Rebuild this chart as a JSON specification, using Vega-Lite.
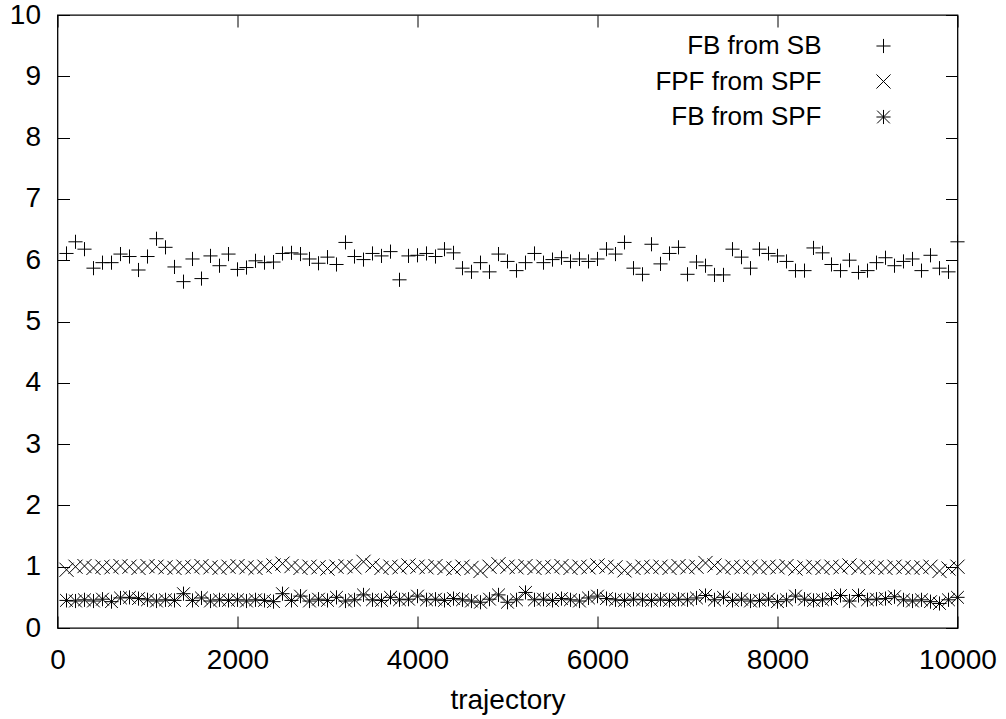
{
"$schema": "https://vega.github.io/schema/vega-lite/v6.json",
"autosize": "none",
"width": 900,
"height": 613,
"padding": {"left": 57.5, "top": 15, "right": 48.5, "bottom": 91},
"background": "white",
"config": {
  "view": {"stroke": "black", "strokeWidth": 1.3},
  "font": "Liberation Sans",
  "axis": {"domain": false, "grid": false, "tickColor": "black", "tickWidth": 1, "tickSize": -12, "labelColor": "black", "labelFontSize": 28, "labelFont": "Liberation Sans", "titleFont": "Liberation Sans", "titleFontSize": 28, "titleFontWeight": "normal", "titleColor": "black", "labelFlush": false, "labelOverlap": false, "format": "d"}
},
"datasets": {
"s1": [
{"t":100,"v":6.11,"s":"FB from SB"},{"t":200,"v":6.30,"s":"FB from SB"},{"t":300,"v":6.18,"s":"FB from SB"},{"t":400,"v":5.87,"s":"FB from SB"},{"t":500,"v":5.96,"s":"FB from SB"},{"t":600,"v":5.96,"s":"FB from SB"},{"t":700,"v":6.10,"s":"FB from SB"},{"t":800,"v":6.06,"s":"FB from SB"},{"t":900,"v":5.84,"s":"FB from SB"},{"t":1000,"v":6.06,"s":"FB from SB"},
{"t":1100,"v":6.35,"s":"FB from SB"},{"t":1200,"v":6.21,"s":"FB from SB"},{"t":1300,"v":5.89,"s":"FB from SB"},{"t":1400,"v":5.65,"s":"FB from SB"},{"t":1500,"v":6.02,"s":"FB from SB"},{"t":1600,"v":5.70,"s":"FB from SB"},{"t":1700,"v":6.07,"s":"FB from SB"},{"t":1800,"v":5.91,"s":"FB from SB"},{"t":1900,"v":6.10,"s":"FB from SB"},{"t":2000,"v":5.85,"s":"FB from SB"},
{"t":2100,"v":5.88,"s":"FB from SB"},{"t":2200,"v":5.99,"s":"FB from SB"},{"t":2300,"v":5.96,"s":"FB from SB"},{"t":2400,"v":5.97,"s":"FB from SB"},{"t":2500,"v":6.11,"s":"FB from SB"},{"t":2600,"v":6.12,"s":"FB from SB"},{"t":2700,"v":6.10,"s":"FB from SB"},{"t":2800,"v":6.02,"s":"FB from SB"},{"t":2900,"v":5.95,"s":"FB from SB"},{"t":3000,"v":6.05,"s":"FB from SB"},
{"t":3100,"v":5.93,"s":"FB from SB"},{"t":3200,"v":6.29,"s":"FB from SB"},{"t":3300,"v":6.06,"s":"FB from SB"},{"t":3400,"v":6.01,"s":"FB from SB"},{"t":3500,"v":6.11,"s":"FB from SB"},{"t":3600,"v":6.07,"s":"FB from SB"},{"t":3700,"v":6.14,"s":"FB from SB"},{"t":3800,"v":5.68,"s":"FB from SB"},{"t":3900,"v":6.07,"s":"FB from SB"},{"t":4000,"v":6.08,"s":"FB from SB"},
{"t":4100,"v":6.11,"s":"FB from SB"},{"t":4200,"v":6.06,"s":"FB from SB"},{"t":4300,"v":6.18,"s":"FB from SB"},{"t":4400,"v":6.12,"s":"FB from SB"},{"t":4500,"v":5.87,"s":"FB from SB"},{"t":4600,"v":5.81,"s":"FB from SB"},{"t":4700,"v":5.96,"s":"FB from SB"},{"t":4800,"v":5.81,"s":"FB from SB"},{"t":4900,"v":6.10,"s":"FB from SB"},{"t":5000,"v":5.98,"s":"FB from SB"},
{"t":5100,"v":5.83,"s":"FB from SB"},{"t":5200,"v":5.96,"s":"FB from SB"},{"t":5300,"v":6.11,"s":"FB from SB"},{"t":5400,"v":5.96,"s":"FB from SB"},{"t":5500,"v":6.01,"s":"FB from SB"},{"t":5600,"v":6.04,"s":"FB from SB"},{"t":5700,"v":5.98,"s":"FB from SB"},{"t":5800,"v":6.02,"s":"FB from SB"},{"t":5900,"v":5.98,"s":"FB from SB"},{"t":6000,"v":6.02,"s":"FB from SB"},
{"t":6100,"v":6.18,"s":"FB from SB"},{"t":6200,"v":6.10,"s":"FB from SB"},{"t":6300,"v":6.29,"s":"FB from SB"},{"t":6400,"v":5.87,"s":"FB from SB"},{"t":6500,"v":5.77,"s":"FB from SB"},{"t":6600,"v":6.26,"s":"FB from SB"},{"t":6700,"v":5.94,"s":"FB from SB"},{"t":6800,"v":6.11,"s":"FB from SB"},{"t":6900,"v":6.21,"s":"FB from SB"},{"t":7000,"v":5.77,"s":"FB from SB"},
{"t":7100,"v":5.97,"s":"FB from SB"},{"t":7200,"v":5.91,"s":"FB from SB"},{"t":7300,"v":5.76,"s":"FB from SB"},{"t":7400,"v":5.76,"s":"FB from SB"},{"t":7500,"v":6.18,"s":"FB from SB"},{"t":7600,"v":6.05,"s":"FB from SB"},{"t":7700,"v":5.87,"s":"FB from SB"},{"t":7800,"v":6.18,"s":"FB from SB"},{"t":7900,"v":6.11,"s":"FB from SB"},{"t":8000,"v":6.07,"s":"FB from SB"},
{"t":8100,"v":5.98,"s":"FB from SB"},{"t":8200,"v":5.83,"s":"FB from SB"},{"t":8300,"v":5.83,"s":"FB from SB"},{"t":8400,"v":6.20,"s":"FB from SB"},{"t":8500,"v":6.12,"s":"FB from SB"},{"t":8600,"v":5.93,"s":"FB from SB"},{"t":8700,"v":5.83,"s":"FB from SB"},{"t":8800,"v":6.00,"s":"FB from SB"},{"t":8900,"v":5.80,"s":"FB from SB"},{"t":9000,"v":5.83,"s":"FB from SB"},
{"t":9100,"v":5.96,"s":"FB from SB"},{"t":9200,"v":6.04,"s":"FB from SB"},{"t":9300,"v":5.91,"s":"FB from SB"},{"t":9400,"v":5.98,"s":"FB from SB"},{"t":9500,"v":6.02,"s":"FB from SB"},{"t":9600,"v":5.83,"s":"FB from SB"},{"t":9700,"v":6.08,"s":"FB from SB"},{"t":9800,"v":5.87,"s":"FB from SB"},{"t":9900,"v":5.81,"s":"FB from SB"},{"t":10000,"v":6.30,"s":"FB from SB"}
],
"s2": [
{"t":100,"v":0.95,"s":"FPF from SPF"},{"t":200,"v":1.00,"s":"FPF from SPF"},{"t":300,"v":1.01,"s":"FPF from SPF"},{"t":400,"v":0.98,"s":"FPF from SPF"},{"t":500,"v":1.00,"s":"FPF from SPF"},{"t":600,"v":0.99,"s":"FPF from SPF"},{"t":700,"v":1.01,"s":"FPF from SPF"},{"t":800,"v":1.00,"s":"FPF from SPF"},{"t":900,"v":0.98,"s":"FPF from SPF"},{"t":1000,"v":1.01,"s":"FPF from SPF"},
{"t":1100,"v":1.00,"s":"FPF from SPF"},{"t":1200,"v":0.99,"s":"FPF from SPF"},{"t":1300,"v":0.98,"s":"FPF from SPF"},{"t":1400,"v":1.00,"s":"FPF from SPF"},{"t":1500,"v":0.99,"s":"FPF from SPF"},{"t":1600,"v":1.01,"s":"FPF from SPF"},{"t":1700,"v":0.99,"s":"FPF from SPF"},{"t":1800,"v":0.98,"s":"FPF from SPF"},{"t":1900,"v":1.00,"s":"FPF from SPF"},{"t":2000,"v":1.01,"s":"FPF from SPF"},
{"t":2100,"v":0.99,"s":"FPF from SPF"},{"t":2200,"v":0.98,"s":"FPF from SPF"},{"t":2300,"v":1.00,"s":"FPF from SPF"},{"t":2400,"v":1.02,"s":"FPF from SPF"},{"t":2500,"v":1.05,"s":"FPF from SPF"},{"t":2600,"v":1.01,"s":"FPF from SPF"},{"t":2700,"v":0.98,"s":"FPF from SPF"},{"t":2800,"v":1.00,"s":"FPF from SPF"},{"t":2900,"v":0.99,"s":"FPF from SPF"},{"t":3000,"v":0.97,"s":"FPF from SPF"},
{"t":3100,"v":1.00,"s":"FPF from SPF"},{"t":3200,"v":1.01,"s":"FPF from SPF"},{"t":3300,"v":0.99,"s":"FPF from SPF"},{"t":3400,"v":1.08,"s":"FPF from SPF"},{"t":3500,"v":1.02,"s":"FPF from SPF"},{"t":3600,"v":0.98,"s":"FPF from SPF"},{"t":3700,"v":1.00,"s":"FPF from SPF"},{"t":3800,"v":0.99,"s":"FPF from SPF"},{"t":3900,"v":1.02,"s":"FPF from SPF"},{"t":4000,"v":1.00,"s":"FPF from SPF"},
{"t":4100,"v":0.99,"s":"FPF from SPF"},{"t":4200,"v":1.01,"s":"FPF from SPF"},{"t":4300,"v":0.98,"s":"FPF from SPF"},{"t":4400,"v":0.97,"s":"FPF from SPF"},{"t":4500,"v":1.00,"s":"FPF from SPF"},{"t":4600,"v":0.98,"s":"FPF from SPF"},{"t":4700,"v":0.93,"s":"FPF from SPF"},{"t":4800,"v":1.00,"s":"FPF from SPF"},{"t":4900,"v":1.04,"s":"FPF from SPF"},{"t":5000,"v":1.00,"s":"FPF from SPF"},
{"t":5100,"v":0.99,"s":"FPF from SPF"},{"t":5200,"v":1.01,"s":"FPF from SPF"},{"t":5300,"v":0.98,"s":"FPF from SPF"},{"t":5400,"v":1.00,"s":"FPF from SPF"},{"t":5500,"v":0.99,"s":"FPF from SPF"},{"t":5600,"v":1.01,"s":"FPF from SPF"},{"t":5700,"v":0.98,"s":"FPF from SPF"},{"t":5800,"v":1.00,"s":"FPF from SPF"},{"t":5900,"v":0.99,"s":"FPF from SPF"},{"t":6000,"v":1.02,"s":"FPF from SPF"},
{"t":6100,"v":1.00,"s":"FPF from SPF"},{"t":6200,"v":0.99,"s":"FPF from SPF"},{"t":6300,"v":0.94,"s":"FPF from SPF"},{"t":6400,"v":0.98,"s":"FPF from SPF"},{"t":6500,"v":1.00,"s":"FPF from SPF"},{"t":6600,"v":0.99,"s":"FPF from SPF"},{"t":6700,"v":1.00,"s":"FPF from SPF"},{"t":6800,"v":0.98,"s":"FPF from SPF"},{"t":6900,"v":1.01,"s":"FPF from SPF"},{"t":7000,"v":0.99,"s":"FPF from SPF"},
{"t":7100,"v":1.00,"s":"FPF from SPF"},{"t":7200,"v":1.06,"s":"FPF from SPF"},{"t":7300,"v":1.02,"s":"FPF from SPF"},{"t":7400,"v":0.98,"s":"FPF from SPF"},{"t":7500,"v":1.00,"s":"FPF from SPF"},{"t":7600,"v":0.99,"s":"FPF from SPF"},{"t":7700,"v":1.00,"s":"FPF from SPF"},{"t":7800,"v":0.98,"s":"FPF from SPF"},{"t":7900,"v":1.00,"s":"FPF from SPF"},{"t":8000,"v":0.99,"s":"FPF from SPF"},
{"t":8100,"v":1.01,"s":"FPF from SPF"},{"t":8200,"v":0.97,"s":"FPF from SPF"},{"t":8300,"v":0.99,"s":"FPF from SPF"},{"t":8400,"v":1.00,"s":"FPF from SPF"},{"t":8500,"v":0.98,"s":"FPF from SPF"},{"t":8600,"v":1.00,"s":"FPF from SPF"},{"t":8700,"v":0.99,"s":"FPF from SPF"},{"t":8800,"v":1.02,"s":"FPF from SPF"},{"t":8900,"v":0.98,"s":"FPF from SPF"},{"t":9000,"v":1.00,"s":"FPF from SPF"},
{"t":9100,"v":0.99,"s":"FPF from SPF"},{"t":9200,"v":0.98,"s":"FPF from SPF"},{"t":9300,"v":1.00,"s":"FPF from SPF"},{"t":9400,"v":0.99,"s":"FPF from SPF"},{"t":9500,"v":0.98,"s":"FPF from SPF"},{"t":9600,"v":0.99,"s":"FPF from SPF"},{"t":9700,"v":1.00,"s":"FPF from SPF"},{"t":9800,"v":0.93,"s":"FPF from SPF"},{"t":9900,"v":0.97,"s":"FPF from SPF"},{"t":10000,"v":1.00,"s":"FPF from SPF"}
],
"s3": [
{"t":100,"v":0.45,"s":"FB from SPF"},{"t":200,"v":0.44,"s":"FB from SPF"},{"t":300,"v":0.46,"s":"FB from SPF"},{"t":400,"v":0.44,"s":"FB from SPF"},{"t":500,"v":0.47,"s":"FB from SPF"},{"t":600,"v":0.43,"s":"FB from SPF"},{"t":700,"v":0.49,"s":"FB from SPF"},{"t":800,"v":0.50,"s":"FB from SPF"},{"t":900,"v":0.48,"s":"FB from SPF"},{"t":1000,"v":0.46,"s":"FB from SPF"},
{"t":1100,"v":0.44,"s":"FB from SPF"},{"t":1200,"v":0.46,"s":"FB from SPF"},{"t":1300,"v":0.45,"s":"FB from SPF"},{"t":1400,"v":0.56,"s":"FB from SPF"},{"t":1500,"v":0.45,"s":"FB from SPF"},{"t":1600,"v":0.49,"s":"FB from SPF"},{"t":1700,"v":0.44,"s":"FB from SPF"},{"t":1800,"v":0.46,"s":"FB from SPF"},{"t":1900,"v":0.45,"s":"FB from SPF"},{"t":2000,"v":0.46,"s":"FB from SPF"},
{"t":2100,"v":0.44,"s":"FB from SPF"},{"t":2200,"v":0.46,"s":"FB from SPF"},{"t":2300,"v":0.45,"s":"FB from SPF"},{"t":2400,"v":0.43,"s":"FB from SPF"},{"t":2500,"v":0.56,"s":"FB from SPF"},{"t":2600,"v":0.45,"s":"FB from SPF"},{"t":2700,"v":0.52,"s":"FB from SPF"},{"t":2800,"v":0.44,"s":"FB from SPF"},{"t":2900,"v":0.47,"s":"FB from SPF"},{"t":3000,"v":0.45,"s":"FB from SPF"},
{"t":3100,"v":0.50,"s":"FB from SPF"},{"t":3200,"v":0.44,"s":"FB from SPF"},{"t":3300,"v":0.46,"s":"FB from SPF"},{"t":3400,"v":0.54,"s":"FB from SPF"},{"t":3500,"v":0.46,"s":"FB from SPF"},{"t":3600,"v":0.45,"s":"FB from SPF"},{"t":3700,"v":0.50,"s":"FB from SPF"},{"t":3800,"v":0.46,"s":"FB from SPF"},{"t":3900,"v":0.47,"s":"FB from SPF"},{"t":4000,"v":0.52,"s":"FB from SPF"},
{"t":4100,"v":0.46,"s":"FB from SPF"},{"t":4200,"v":0.47,"s":"FB from SPF"},{"t":4300,"v":0.45,"s":"FB from SPF"},{"t":4400,"v":0.48,"s":"FB from SPF"},{"t":4500,"v":0.46,"s":"FB from SPF"},{"t":4600,"v":0.44,"s":"FB from SPF"},{"t":4700,"v":0.42,"s":"FB from SPF"},{"t":4800,"v":0.47,"s":"FB from SPF"},{"t":4900,"v":0.54,"s":"FB from SPF"},{"t":5000,"v":0.42,"s":"FB from SPF"},
{"t":5100,"v":0.46,"s":"FB from SPF"},{"t":5200,"v":0.58,"s":"FB from SPF"},{"t":5300,"v":0.46,"s":"FB from SPF"},{"t":5400,"v":0.47,"s":"FB from SPF"},{"t":5500,"v":0.45,"s":"FB from SPF"},{"t":5600,"v":0.48,"s":"FB from SPF"},{"t":5700,"v":0.46,"s":"FB from SPF"},{"t":5800,"v":0.44,"s":"FB from SPF"},{"t":5900,"v":0.49,"s":"FB from SPF"},{"t":6000,"v":0.52,"s":"FB from SPF"},
{"t":6100,"v":0.48,"s":"FB from SPF"},{"t":6200,"v":0.46,"s":"FB from SPF"},{"t":6300,"v":0.45,"s":"FB from SPF"},{"t":6400,"v":0.47,"s":"FB from SPF"},{"t":6500,"v":0.46,"s":"FB from SPF"},{"t":6600,"v":0.45,"s":"FB from SPF"},{"t":6700,"v":0.47,"s":"FB from SPF"},{"t":6800,"v":0.45,"s":"FB from SPF"},{"t":6900,"v":0.47,"s":"FB from SPF"},{"t":7000,"v":0.46,"s":"FB from SPF"},
{"t":7100,"v":0.49,"s":"FB from SPF"},{"t":7200,"v":0.53,"s":"FB from SPF"},{"t":7300,"v":0.46,"s":"FB from SPF"},{"t":7400,"v":0.50,"s":"FB from SPF"},{"t":7500,"v":0.45,"s":"FB from SPF"},{"t":7600,"v":0.47,"s":"FB from SPF"},{"t":7700,"v":0.44,"s":"FB from SPF"},{"t":7800,"v":0.45,"s":"FB from SPF"},{"t":7900,"v":0.47,"s":"FB from SPF"},{"t":8000,"v":0.43,"s":"FB from SPF"},
{"t":8100,"v":0.46,"s":"FB from SPF"},{"t":8200,"v":0.52,"s":"FB from SPF"},{"t":8300,"v":0.47,"s":"FB from SPF"},{"t":8400,"v":0.45,"s":"FB from SPF"},{"t":8500,"v":0.46,"s":"FB from SPF"},{"t":8600,"v":0.48,"s":"FB from SPF"},{"t":8700,"v":0.53,"s":"FB from SPF"},{"t":8800,"v":0.44,"s":"FB from SPF"},{"t":8900,"v":0.53,"s":"FB from SPF"},{"t":9000,"v":0.46,"s":"FB from SPF"},
{"t":9100,"v":0.47,"s":"FB from SPF"},{"t":9200,"v":0.48,"s":"FB from SPF"},{"t":9300,"v":0.51,"s":"FB from SPF"},{"t":9400,"v":0.46,"s":"FB from SPF"},{"t":9500,"v":0.44,"s":"FB from SPF"},{"t":9600,"v":0.46,"s":"FB from SPF"},{"t":9700,"v":0.43,"s":"FB from SPF"},{"t":9800,"v":0.40,"s":"FB from SPF"},{"t":9900,"v":0.46,"s":"FB from SPF"},{"t":10000,"v":0.50,"s":"FB from SPF"}
]
},
"layer": [
  {
    "data": {"name": "s1"},
    "mark": {"type": "point", "filled": false, "strokeWidth": 1, "size": 200, "color": "black", "opacity": 1},
    "encoding": {
      "x": {"field": "t", "type": "quantitative", "scale": {"domain": [0, 10000], "nice": false, "zero": false}, "axis": {"orient": "bottom", "values": [0,2000,4000,6000,8000,10000], "labelPadding": 30, "title": "trajectory", "titlePadding": 12}},
      "y": {"field": "v", "type": "quantitative", "scale": {"domain": [0, 10], "nice": false, "zero": false}, "axis": {"orient": "left", "values": [0,1,2,3,4,5,6,7,8,9,10], "labelPadding": 29, "title": null}},
      "shape": {"field": "s", "type": "nominal", "scale": {"domain": ["FB from SB", "FPF from SPF", "FB from SPF"], "range": ["M-1,0L1,0M0,-1L0,1", "M-1,-1L1,1M-1,1L1,-1", "M-1,0L1,0M0,-1L0,1M-0.9,-0.9L0.9,0.9M-0.9,0.9L0.9,-0.9"]},
        "legend": {"title": null, "orient": "none", "legendX": 813, "legendY": 18, "padding": 0, "symbolSize": 200, "symbolStrokeColor": "black", "symbolFillColor": "transparent", "symbolStrokeWidth": 1, "labelFontSize": 26, "labelFont": "Liberation Sans", "labelColor": "black", "labelAlign": "right", "labelOffset": -75, "rowPadding": 9.5, "labelLimit": 400}}
    }
  },
  {
    "data": {"name": "s2"},
    "mark": {"type": "point", "filled": false, "strokeWidth": 1, "size": 200, "color": "black", "opacity": 1},
    "encoding": {
      "x": {"field": "t", "type": "quantitative", "axis": {"orient": "top", "values": [0,2000,4000,6000,8000,10000], "labels": false, "title": null}},
      "y": {"field": "v", "type": "quantitative", "axis": {"orient": "right", "values": [0,1,2,3,4,5,6,7,8,9,10], "labels": false, "title": null}},
      "shape": {"field": "s", "type": "nominal"}
    }
  },
  {
    "data": {"name": "s3"},
    "mark": {"type": "point", "filled": false, "strokeWidth": 1, "size": 200, "color": "black", "opacity": 1},
    "encoding": {
      "x": {"field": "t", "type": "quantitative", "axis": null},
      "y": {"field": "v", "type": "quantitative", "axis": null},
      "shape": {"field": "s", "type": "nominal"}
    }
  }
],
"resolve": {"axis": {"x": "independent", "y": "independent"}}
}
